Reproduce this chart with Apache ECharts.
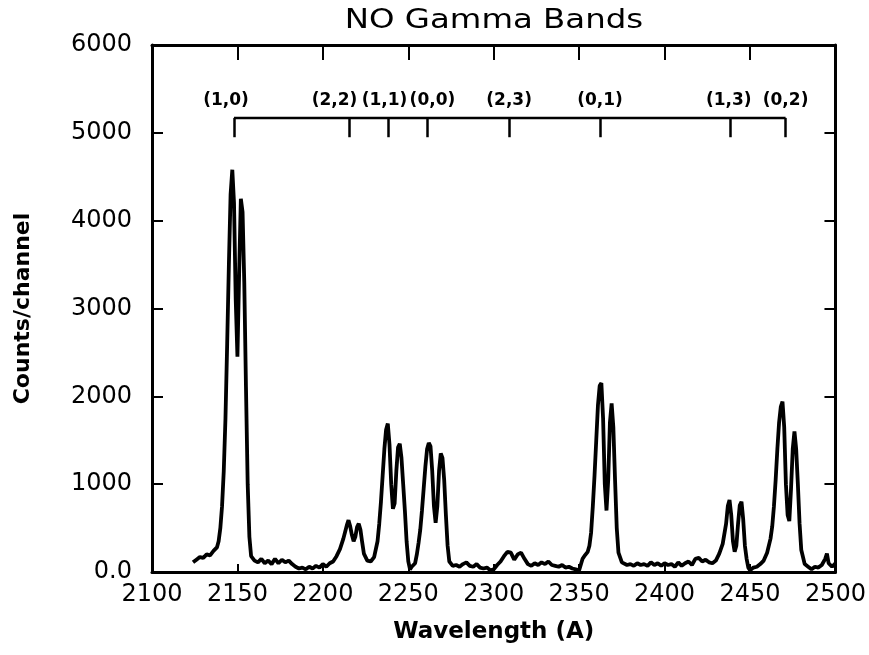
<!DOCTYPE html>
<html>
<head>
<meta charset="utf-8">
<script src="https://cdn.jsdelivr.net/npm/echarts@6/dist/echarts.min.js"></script>
<style>
html,body{margin:0;padding:0;background:#fff;}
#chart{width:869px;height:655px;}
</style>
</head>
<body>
<div id="chart"></div>
<script>
// ---- data ----
const wavelengths = [
 2124,2126,2128,2130,2132,2134,2136,2138,2139,2140,2141,2142,2143,2144,2145,2146,2147,2148,2149,2150,
 2151,2152,2153,2154,2155,2156,2157,2158,2160,2162,2164,2166,2168,2170,2172,2174,2176,2178,2180,2182,
 2184,2186,2188,2190,2192,2194,2196,2198,2200,2202,2204,2206,2208,2210,2212,2214,2215,2216,2217,2218,
 2219,2220,2221,2222,2223,2224,2226,2228,2230,2232,2233,2234,2235,2236,2237,2238,2239,2240,2241,2242,
 2243,2244,2245,2246,2247,2248,2249,2250,2251,2252,2254,2255,2256,2257,2258,2259,2260,2261,2262,2263,
 2264,2265,2266,2267,2268,2269,2270,2271,2272,2273,2274,2276,2278,2280,2282,2284,2286,2288,2290,2292,
 2294,2296,2298,2300,2302,2304,2306,2308,2310,2312,2314,2316,2318,2320,2322,2324,2326,2328,2330,2332,
 2334,2336,2338,2340,2342,2344,2346,2348,2350,2351,2352,2353,2354,2355,2356,2357,2358,2359,2360,2361,
 2362,2363,2364,2365,2366,2367,2368,2369,2370,2371,2372,2373,2375,2378,2380,2382,2384,2386,2388,2390,
 2392,2394,2396,2398,2400,2402,2404,2406,2408,2410,2412,2414,2416,2418,2420,2422,2424,2426,2428,2430,
 2432,2434,2436,2437,2438,2439,2440,2441,2442,2443,2444,2445,2446,2447,2448,2449,2450,2452,2454,2456,
 2458,2460,2462,2463,2464,2465,2466,2467,2468,2469,2470,2471,2472,2473,2474,2475,2476,2477,2478,2479,
 2480,2482,2484,2486,2488,2490,2492,2494,2495,2496,2498,2500
];
const counts = [
 110,140,170,160,200,190,240,280,350,500,750,1150,1750,2600,3500,4300,4580,4200,3100,2450,
 3400,4250,4100,3300,2100,1000,400,180,130,110,150,100,130,90,150,100,140,110,130,90,
 60,40,50,30,60,40,70,50,90,60,100,120,180,260,380,530,590,520,420,350,
 400,510,550,480,340,210,130,120,170,350,550,800,1100,1400,1620,1690,1450,1000,720,780,
 1150,1420,1460,1300,1000,700,350,120,30,60,100,200,330,480,700,950,1200,1400,1470,1430,
 1150,750,560,750,1150,1350,1300,1050,650,300,120,70,80,60,90,110,70,60,90,50,
 40,50,20,30,80,120,180,230,220,140,200,220,150,90,70,100,80,110,90,120,
 80,70,60,80,50,60,40,30,20,40,150,180,200,230,300,450,750,1100,1500,1900,
 2120,2150,1750,1000,700,1050,1700,1920,1650,1050,500,220,110,80,90,70,100,80,90,70,
 110,80,100,70,100,80,90,60,110,70,100,120,80,150,160,120,140,110,100,130,
 210,320,550,750,820,650,350,230,300,550,760,800,600,300,150,50,20,50,60,90,
 130,220,380,520,750,1050,1400,1700,1880,1940,1650,1000,650,580,950,1400,1600,1400,1000,550,
 250,90,60,30,60,50,80,150,210,100,60,100
];
const bandNames = ['(1,0)','(2,2)','(1,1)','(0,0)','(2,3)','(0,1)','(1,3)','(0,2)'];
const bandWavelengths = [2148, 2215.6, 2238.4, 2261.2, 2309, 2362.2, 2438.7, 2470.8];
const xTicks = [2100,2150,2200,2250,2300,2350,2400,2450,2500];
const yTicks = ['0.0','1000','2000','3000','4000','5000','6000'];

// ---- chart ----
const chart = echarts.init(document.getElementById('chart'), null, {renderer:'canvas'});
const FONT = 'DejaVu Sans';
const spectrum = wavelengths.map((w,i)=>[w, counts[i]]);
const bracketTop = 5170, bracketBottom = 4950, labelLevel = 5370;
const labelShift = [-8,-15,-4,5,0,0,-2,0];

const dropLines = bandWavelengths.map(w => [{coord:[w,bracketBottom]},{coord:[w,bracketTop]}]);
const bandLabelData = bandWavelengths.map((w,i)=>({
  value:[w,labelLevel], name:bandNames[i],
  label:{offset:[labelShift[i],0]}
}));

const axisLineStyle = {color:'#000', width:3};
chart.setOption({
  backgroundColor:'#fff',
  animation:false,
  graphic:[{
    type:'text', x:494, y:7, scaleX:1.2, originX:0, originY:0,
    style:{text:'NO Gamma Bands', font:'normal 27px "DejaVu Sans"', fill:'#000', textAlign:'center', textVerticalAlign:'top'}
  }],
  grid:{left:152, right:32, top:45, bottom:83, show:false},
  xAxis:[{
    type:'value', min:xTicks[0], max:xTicks[xTicks.length-1], interval:50, position:'bottom',
    axisLine:{show:true, onZero:false, lineStyle:axisLineStyle},
    axisTick:{show:true, inside:true, length:8, lineStyle:{color:'#000', width:2}},
    axisLabel:{color:'#000', fontFamily:FONT, fontSize:24, margin:11, formatter:(v)=>String(v)},
    splitLine:{show:false},
    name:'Wavelength (A)', nameLocation:'middle', nameGap:49,
    nameTextStyle:{color:'#000', fontFamily:FONT, fontSize:23, fontWeight:'bold'}
  },{
    type:'value', min:xTicks[0], max:xTicks[xTicks.length-1], interval:50, position:'top',
    axisLine:{show:true, onZero:false, lineStyle:axisLineStyle},
    axisTick:{show:true, inside:true, length:15, lineStyle:{color:'#000', width:2}},
    axisLabel:{show:false}, splitLine:{show:false}
  }],
  yAxis:[{
    type:'value', min:0, max:6000, interval:1000, position:'left',
    axisLine:{show:true, onZero:false, lineStyle:axisLineStyle},
    axisTick:{show:true, inside:true, length:11, lineStyle:{color:'#000', width:2}},
    axisLabel:{color:'#000', fontFamily:FONT, fontSize:24, margin:20,
      formatter:(v)=>yTicks[Math.round(v/1000)]},
    splitLine:{show:false},
    name:'Counts/channel', nameLocation:'middle', nameGap:118,
    nameTextStyle:{color:'#000', fontFamily:FONT, fontSize:22, fontWeight:'bold'}
  },{
    type:'value', min:0, max:6000, interval:1000, position:'right',
    axisLine:{show:true, onZero:false, lineStyle:axisLineStyle},
    axisTick:{show:true, inside:true, length:11, lineStyle:{color:'#000', width:2}},
    axisLabel:{show:false}, splitLine:{show:false}
  }],
  series:[{
    type:'line', name:'spectrum', data:spectrum, showSymbol:false, symbol:'none',
    lineStyle:{color:'#000', width:3.8}, z:3
  },{
    type:'line', name:'bracket', showSymbol:false, symbol:'none',
    data:[[bandWavelengths[0],bracketTop],[bandWavelengths[bandWavelengths.length-1],bracketTop]],
    lineStyle:{color:'#000', width:2.5},
    markLine:{silent:true, symbol:['none','none'], label:{show:false},
      lineStyle:{color:'#000', width:2.5, type:'solid'}, data:dropLines}
  },{
    type:'scatter', name:'bands', symbolSize:0, data:bandLabelData,
    itemStyle:{color:'#000', opacity:1},
    label:{show:true, position:'inside', formatter:(p)=>p.name, color:'#000', opacity:1,
      textBorderWidth:0, textBorderColor:'transparent',
      fontFamily:FONT, fontSize:17, fontWeight:'bold'}
  }]
});
</script>
</body>
</html>
